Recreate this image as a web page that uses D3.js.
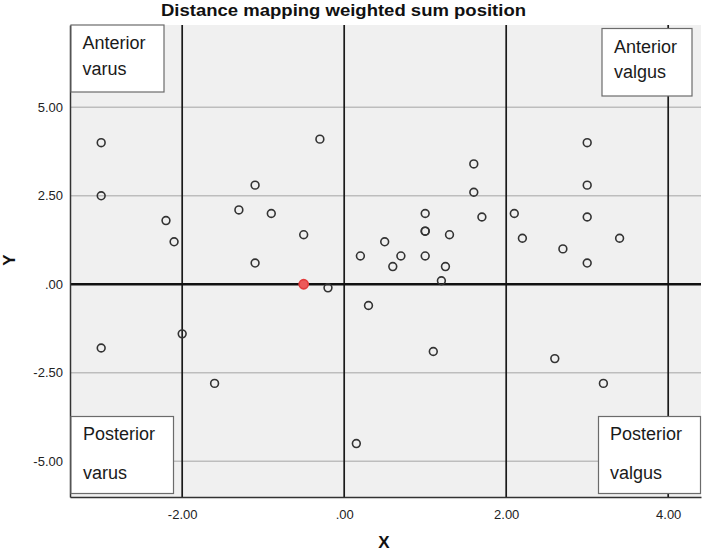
<!DOCTYPE html>
<html>
<head>
<meta charset="utf-8">
<script src="https://cdn.jsdelivr.net/npm/d3@7"></script>
<style>
  body { margin: 0; background: #fff; }
  svg text { font-family: "Liberation Sans", Arial, sans-serif; }
</style>
</head>
<body>
<svg id="chart" width="702" height="551"></svg>
<script>
// data
var xVals = [-3.0, -3.0, -2.2, -2.1, -1.3, -1.1, -0.9, -0.5, -1.1, -0.3, -0.5, -0.2,
             0.2, 0.5, 0.6, 0.7, 1.0, 1.0, 1.0, 1.0, 1.3, 1.25, 1.2, 1.6, 1.6, 1.7,
             2.1, 2.2, 2.7, 3.0, 3.0, 3.0, 3.0, 3.4, 0.3,
             -3.0, -2.0, -1.6, 0.15, 1.1, 2.6, 3.2];
var yVals = [4.0, 2.5, 1.8, 1.2, 2.1, 2.8, 2.0, 1.4, 0.6, 4.1, 0.0, -0.1,
             0.8, 1.2, 0.5, 0.8, 2.0, 1.5, 1.5, 0.8, 1.4, 0.5, 0.1, 3.4, 2.6, 1.9,
             2.0, 1.3, 1.0, 4.0, 2.8, 1.9, 0.6, 1.3, -0.6,
             -1.8, -1.4, -2.8, -4.5, -1.9, -2.1, -2.8];
var highlight = 10;   // the red point at (-0.5, 0)

var xTicks = [-2, 0, 2, 4];
var yTicks = [-5, -2.5, 0, 2.5, 5];
var refX = [-2, 0, 2, 4];    // black vertical reference lines

var quadrants = ["Anterior varus", "Anterior valgus", "Posterior varus", "Posterior valgus"];

var svg = d3.select("#chart");
// note: "top" is taken by window.top, so use pl/pr/ptop/pb
var pl = 70, pr = 701, ptop = 25, pb = 497;

var x = d3.scaleLinear().domain([-3.385, 4.405]).range([pl, pr]);
var y = d3.scaleLinear().domain([-6.01, 7.325]).range([pb, ptop]);

// SPSS style number format: .00 instead of 0.00, plain hyphen for minus
function fmt(v) {
  var s = d3.format(".2f")(v).replace("\u2212", "-");
  return s.replace(/^(-?)0\./, "$1.");
}

// title
svg.append("text")
  .attr("x", 343.5).attr("y", 16)
  .attr("text-anchor", "middle")
  .attr("font-size", 16).attr("font-weight", "bold")
  .attr("textLength", 365).attr("lengthAdjust", "spacingAndGlyphs")
  .attr("fill", "#111")
  .text("Distance mapping weighted sum position");

// plot background
svg.append("rect")
  .attr("x", pl).attr("y", ptop)
  .attr("width", pr - pl).attr("height", pb - ptop)
  .attr("fill", "#f0f0f0");

// grey horizontal gridlines
svg.selectAll(".hgrid")
  .data(yTicks.filter(function(d) { return d !== 0; }))
  .enter().append("line")
  .attr("x1", pl).attr("x2", pr)
  .attr("y1", function(d) { return y(d); })
  .attr("y2", function(d) { return y(d); })
  .attr("stroke", "#bdbdbd").attr("stroke-width", 1.5);

// black vertical reference lines
svg.selectAll(".vref")
  .data(refX)
  .enter().append("line")
  .attr("x1", function(d) { return x(d); })
  .attr("x2", function(d) { return x(d); })
  .attr("y1", ptop).attr("y2", pb)
  .attr("stroke", "#1a1a1a").attr("stroke-width", 1.7);

// heavy y = 0 line
svg.append("line")
  .attr("x1", pl).attr("x2", pr)
  .attr("y1", y(0)).attr("y2", y(0))
  .attr("stroke", "#111").attr("stroke-width", 2.5);

// axes
var xAxis = d3.axisBottom(x).tickValues(xTicks).tickSize(0).tickPadding(13).tickFormat(fmt);
var yAxis = d3.axisLeft(y).tickValues(yTicks).tickSize(0).tickPadding(7).tickFormat(fmt);

var gx = svg.append("g").attr("transform", "translate(0," + pb + ")").call(xAxis);
var gy = svg.append("g").attr("transform", "translate(" + pl + ",0)").call(yAxis);
[gx, gy].forEach(function(g) {
  g.select(".domain").attr("stroke", "#333").attr("stroke-width", 1.5);
  g.selectAll("text").attr("font-size", 13).attr("fill", "#222")
    .attr("font-family", "'Liberation Sans', Arial, sans-serif");
});

// points
svg.selectAll(".pt")
  .data(xVals.map(function(d, i) { return { x: d, y: yVals[i], hi: i === highlight }; }))
  .enter().append("circle")
  .attr("cx", function(d) { return x(d.x); })
  .attr("cy", function(d) { return y(d.y); })
  .attr("r", function(d) { return d.hi ? 4.6 : 3.9; })
  .attr("fill", function(d) { return d.hi ? "#ec5a5a" : "none"; })
  .attr("stroke", function(d) { return d.hi ? "#e23b3b" : "#333"; })
  .attr("stroke-width", 1.6);

// quadrant label boxes
var boxes = [
  { x0: 71, y0: 25, w: 93, h: 67, tx: 82.5, ty: [48.5, 74.5] },
  { x0: 602, y0: 28.5, w: 90, h: 67.5, tx: 614, ty: [52.5, 78] },
  { x0: 71, y0: 416.5, w: 102.5, h: 77, tx: 83, ty: [439.5, 478.5] },
  { x0: 598.5, y0: 416.5, w: 102, h: 77, tx: 610, ty: [439.5, 478.5] }
];
boxes.forEach(function(b, i) {
  var words = quadrants[i].split(" ");
  svg.append("rect")
    .attr("x", b.x0).attr("y", b.y0)
    .attr("width", b.w).attr("height", b.h)
    .attr("fill", "#fff").attr("stroke", "#6b6b6b").attr("stroke-width", 1.2);
  words.forEach(function(w, j) {
    svg.append("text")
      .attr("x", b.tx).attr("y", b.ty[j])
      .attr("font-family", "'Noto Sans', sans-serif")
      .attr("font-size", 18).attr("fill", "#1a1a1a")
      .text(w);
  });
});

// axis titles
svg.append("text")
  .attr("x", 384).attr("y", 548)
  .attr("text-anchor", "middle")
  .attr("font-size", 17).attr("font-weight", "bold").attr("fill", "#111")
  .text("X");

svg.append("text")
  .attr("transform", "translate(15,260) rotate(-90)")
  .attr("text-anchor", "middle")
  .attr("font-size", 17).attr("font-weight", "bold").attr("fill", "#111")
  .text("Y");
</script>
</body>
</html>
